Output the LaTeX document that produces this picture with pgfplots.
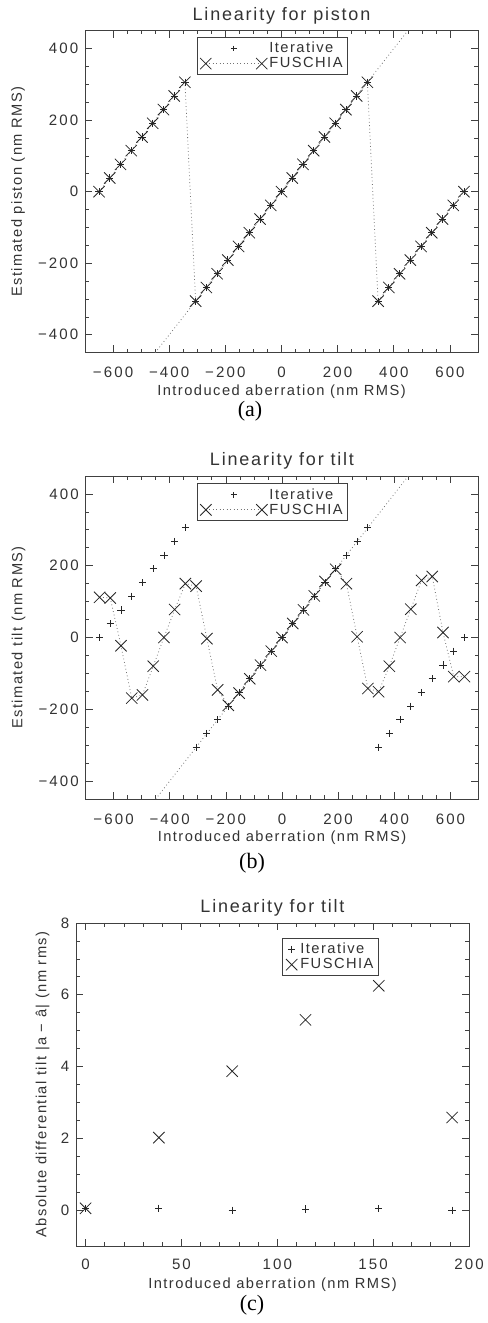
\documentclass[border=0pt]{standalone}
\usepackage{fontspec}
\setmainfont{Liberation Sans}[LetterSpace=10]
\newfontfamily\tickfont{Liberation Sans}[LetterSpace=14]
\newfontfamily\capfont{Liberation Serif}
\usepackage{pgfplots}
\usepackage{pgfplotstable}
\pgfplotsset{compat=1.18}

% x : introduced aberration, it : iterative (wrapped), fa : FUSCHIA piston, fb : FUSCHIA tilt
\pgfplotstableread{
x it fa fb
-650.00 0.00 0.00 112
-611.76 38.24 38.24 110
-573.53 76.47 76.47 -23
-535.29 114.71 114.71 -169
-497.06 152.94 152.94 -160
-458.82 191.18 191.18 -80
-420.59 229.41 229.41 0
-382.35 267.65 267.65 78
-344.12 305.88 305.88 150
-305.88 -305.88 -305.88 143
-267.65 -267.65 -267.65 -3
-229.41 -229.41 -229.41 -146
-191.18 -191.18 -191.18 -189
-152.94 -152.94 -152.94 -155
-114.71 -114.71 -114.71 -115
-76.47 -76.47 -76.47 -77
-38.24 -38.24 -38.24 -38
0.00 0.00 0.00 0
38.24 38.24 38.24 39
76.47 76.47 76.47 77
114.71 114.71 114.71 116
152.94 152.94 152.94 156
191.18 191.18 191.18 190
229.41 229.41 229.41 150
267.65 267.65 267.65 2
305.88 305.88 305.88 -142
344.12 -305.88 -305.88 -151
382.35 -267.65 -267.65 -80
420.59 -229.41 -229.41 0
458.82 -191.18 -191.18 79
497.06 -152.94 -152.94 159
535.29 -114.71 -114.71 170
573.53 -76.47 -76.47 14
611.76 -38.24 -38.24 -109
650.00 0.00 0.00 -109
}\maindata

\pgfplotstableread{
x it fu
0.00 0.05 0.05
38.24 0.05 2.02
76.47 0.00 3.87
114.71 0.03 5.30
152.94 0.04 6.25
191.18 0.00 2.58
}\diffdata

\pgfplotstableread{
x y
-450 -450
450 450
}\idealdata

\newcommand{\lblfont}{\fontsize{11}{13}\selectfont}

\pgfplotsset{
  idl/.style={
    scale only axis,
    width=294.75pt,
    axis line style={draw=black!75, line width=0.7pt},
    every tick/.style={black!75, line width=0.5pt},
    major tick length=5.5pt, minor tick length=2.8pt,
    tick align=inside,
    tick label style={font=\tickfont\fontsize{11.3}{13}\selectfont, text=black!80},
    /pgf/number format/assume math mode=true,
    every axis title/.style={at={(axis description cs:0.5,1)}, anchor=center, yshift=11pt, font=\fontsize{13.5}{15}\selectfont, text=black!80},
    every axis x label/.style={at={(axis description cs:0.5,0)}, anchor=center, yshift=-29pt, font=\lblfont, text=black!80},
    every axis y label/.style={at={(axis description cs:-0.17,0.5)}, rotate=90, anchor=center, font=\lblfont, text=black!80},
    xticklabel style={anchor=center, yshift=-15pt},
    yticklabel style={anchor=east, xshift=-1.5pt},
    legend cell align=left,
    legend style={draw=black!75, line width=0.6pt, font=\lblfont, text=black!80, inner sep=2pt, row sep=-1pt, nodes={inner sep=1.5pt}},
  },
  bigaxis/.style={
    idl,
    xmin=-700, xmax=700, ymin=-450, ymax=450,
    xtick={-600,-400,-200,0,200,400,600},
    xticklabels={−600,−400,−200,0,200,400,600},
    ytick={-400,-200,0,200,400},
    yticklabels={−400,−200,0,200,400},
    minor x tick num=3, minor y tick num=3,
    xlabel={Introduced aberration (nm RMS)},
  },
  itstyle/.style={only marks, mark=+, mark size=2.7pt, color=black!85, line width=0.6pt},
  fustyle/.style={color=black!55, dotted, line width=0.6pt, mark=x, mark size=6pt, mark options={solid, draw=black!85, line width=0.6pt}},
  idealstyle/.style={color=black!55, dotted, line width=0.6pt, no marks, forget plot},
  itlegend/.style={legend image code/.code={\path[draw=none] (0pt,0pt) -- (42pt,0pt); \draw[##1, mark size=2.2pt] plot[only marks] coordinates {(21pt,0pt)};}},
  fulegend/.style={legend image code/.code={\draw[##1] plot coordinates {(0pt,0pt) (42pt,0pt)};}},
  mklegendc/.style={legend image code/.code={\path[draw=none] (0pt,0pt) -- (10pt,0pt); \draw[##1] plot[only marks] coordinates {(5pt,0pt)};}},
}

\begin{document}
\begin{tikzpicture}
\useasboundingbox (0pt,0pt) rectangle (365.25pt,992.25pt);

% ---------------- (a) piston ----------------
\begin{axis}[bigaxis,
  at={(63.75pt,727.725pt)}, anchor=south west,
  height=241.5pt,
  title={Linearity for piston},
  ylabel={Estimated piston (nm RMS)},
  legend style={at={(axis description cs:0.285,0.98)}, anchor=north west},
]
\addplot[idealstyle] table[x=x, y=y] {\idealdata};
\addplot[itstyle, itlegend] table[x=x, y=it] {\maindata};
\addlegendentry{Iterative}
\addplot[fustyle, fulegend] table[x=x, y=fa] {\maindata};
\addlegendentry{FUSCHIA}
\end{axis}
\node[font=\capfont\fontsize{16.5}{18}\selectfont] at (187.5pt,683.5pt) {(a)};

% ---------------- (b) tilt ----------------
\begin{axis}[bigaxis,
  at={(64.125pt,393pt)}, anchor=south west,
  height=242.25pt,
  title={Linearity for tilt},
  ylabel={Estimated tilt (nm RMS)},
  legend style={at={(axis description cs:0.284,0.977)}, anchor=north west},
]
\addplot[idealstyle] table[x=x, y=y] {\idealdata};
\addplot[itstyle, itlegend] table[x=x, y=it] {\maindata};
\addlegendentry{Iterative}
\addplot[fustyle, fulegend] table[x=x, y=fb] {\maindata};
\addlegendentry{FUSCHIA}
\end{axis}
\node[font=\capfont\fontsize{16.5}{18}\selectfont] at (189pt,344.8pt) {(b)};

% ---------------- (c) differential tilt ----------------
\begin{axis}[idl,
  at={(57pt,57.75pt)}, anchor=south west,
  height=242.25pt,
  xmin=-5, xmax=200, ymin=-1, ymax=8,
  xtick={0,50,100,150,200},
  ytick={0,2,4,6,8},
  minor x tick num=4, minor y tick num=3,
  title={Linearity for tilt},
  xlabel={Introduced aberration (nm RMS)},
  ylabel={Absolute differential tilt |a − â| (nm rms)},
  ylabel style={at={(axis description cs:-0.085,0.5)}},
  xticklabel style={yshift=1.5pt},
  legend style={at={(axis description cs:0.524,0.953)}, anchor=north west},
]
\addplot[itstyle, mklegendc] table[x=x, y=it] {\diffdata};
\addlegendentry{Iterative}
\addplot[only marks, mark=x, mark size=6pt, color=black!85, line width=0.6pt, mklegendc] table[x=x, y=fu] {\diffdata};
\addlegendentry{FUSCHIA}
\end{axis}
\node[font=\capfont\fontsize{16.5}{18}\selectfont] at (189pt,13.5pt) {(c)};
\end{tikzpicture}
\end{document}
